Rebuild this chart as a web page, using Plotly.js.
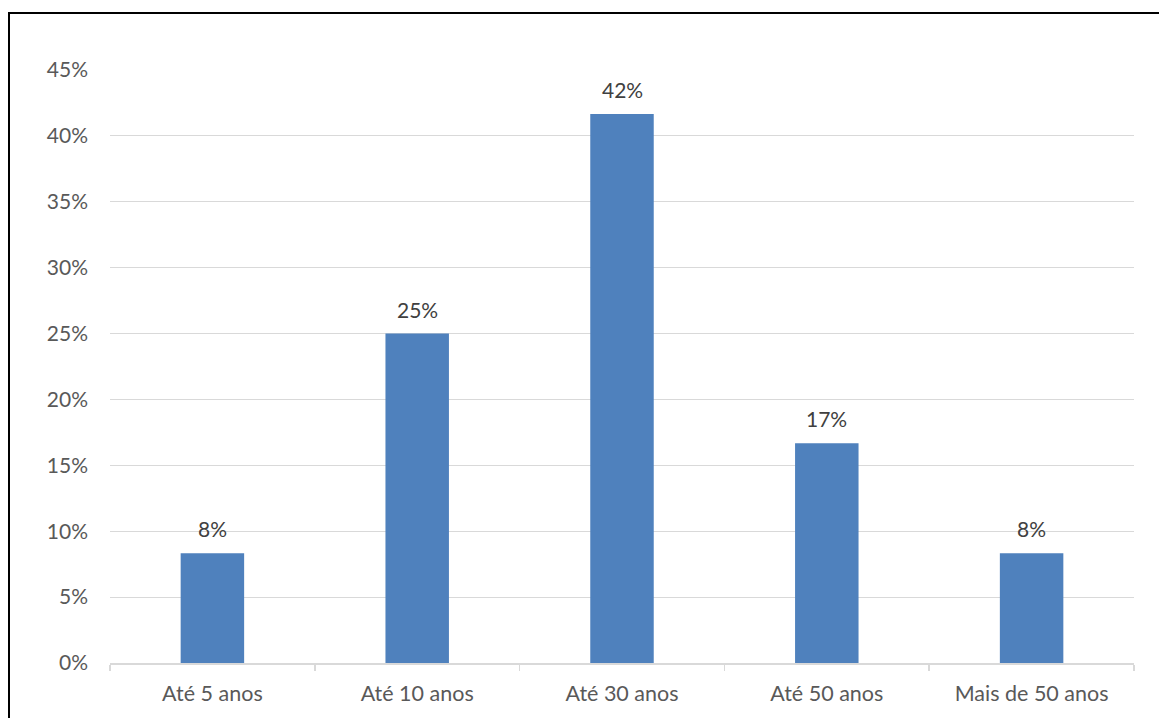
<!DOCTYPE html>
<html><head><meta charset="utf-8">
<script src="https://cdn.plot.ly/plotly-3.0.1.min.js"></script>
<style>
html,body{margin:0;padding:0;background:#fff;}
#wrap{position:relative;width:1159px;height:718px;overflow:hidden;}
#frame{position:absolute;left:8px;top:12px;width:1200px;height:800px;border-left:2.5px solid #000;border-top:2.5px solid #000;pointer-events:none;z-index:5;}
#chart{position:absolute;left:0;top:0;width:1159px;height:718px;}
</style></head>
<body><div id="wrap"><div id="frame"></div><div id="chart"></div></div>
<script>
const categories = ["Até 5 anos", "Até 10 anos", "Até 30 anos", "Até 50 anos", "Mais de 50 anos"];
const values = [0.0833, 0.25, 0.4167, 0.1667, 0.0833];
const labels = ["8%", "25%", "42%", "17%", "8%"];
const yTickVals = [0, 0.05, 0.10, 0.15, 0.20, 0.25, 0.30, 0.35, 0.40, 0.45];
const yTickText = ["0%", "5%", "10%", "15%", "20%", "25%", "30%", "35%", "40%", "45%"];

const font = "Lato, 'Open Sans', sans-serif";
const trace = {
  type: "bar", x: categories, y: values,
  marker: {color: "#4f81bd"}, width: 0.31, hoverinfo: "none"
};
const annotations = categories.map((c, i) => ({
  x: c, y: values[i], text: labels[i], showarrow: false,
  xref: "x", yref: "y", yanchor: "bottom", yshift: 10,
  font: {family: font, size: 21, color: "#404040"}
}));
const layout = {
  width: 1159, height: 718,
  margin: {l: 110, r: 25, t: 70, b: 55},
  paper_bgcolor: "#fff", plot_bgcolor: "#fff",
  showlegend: false, bargap: 0.69,
  xaxis: {
    type: "category", showgrid: false, zeroline: false,
    showline: true, linecolor: "#d9d9d9", linewidth: 1.5,
    ticks: "outside", tickson: "boundaries", ticklen: 6, tickcolor: "#d9d9d9", tickwidth: 1.5,
    tickfont: {family: font, size: 21.5, color: "#595959"}, ticklabelstandoff: 11
  },
  yaxis: {
    range: [0, 0.45], tickvals: yTickVals, ticktext: yTickText,
    showgrid: true, gridcolor: "#d9d9d9", gridwidth: 1.2, zeroline: false,
    showline: false, ticks: "",
    tickfont: {family: font, size: 21, color: "#595959"}, ticklabelstandoff: 21
  },
  annotations: annotations
};
Plotly.newPlot("chart", [trace], layout, {displayModeBar: false, staticPlot: true});
</script></body></html>
